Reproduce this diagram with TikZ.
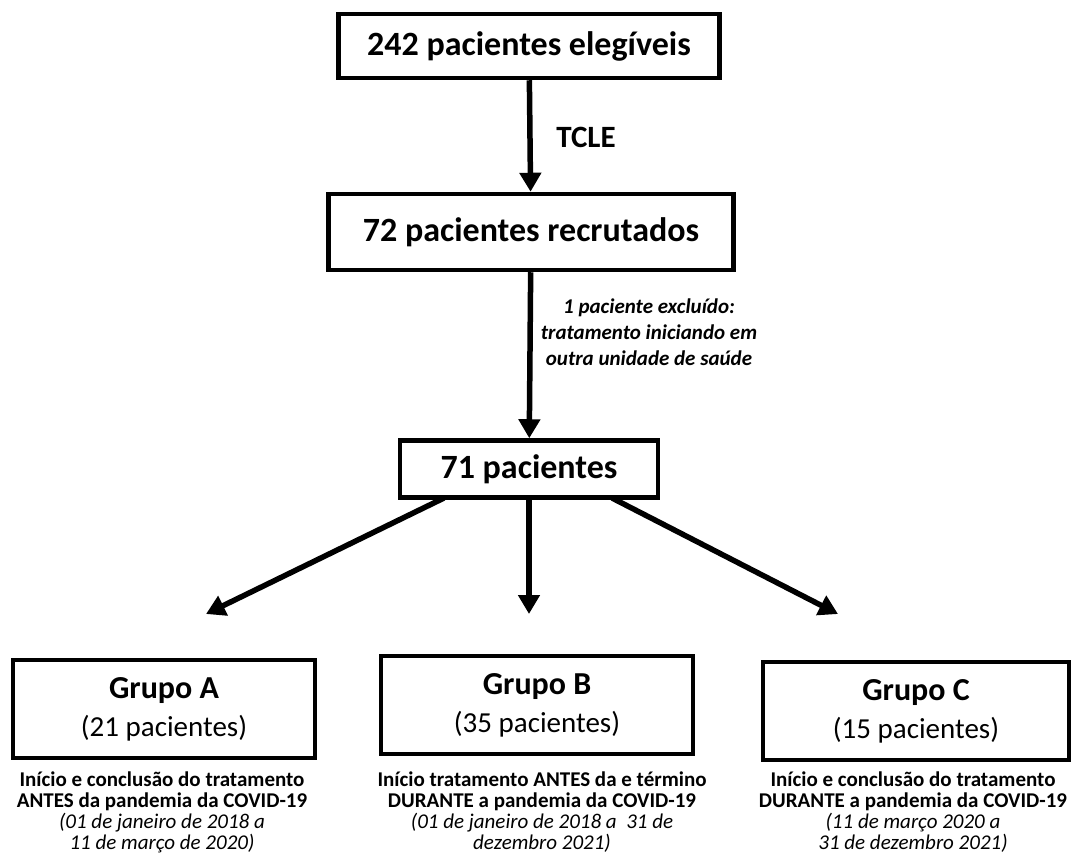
\documentclass[tikz,border=0pt]{standalone}
\usepackage{fontspec}
\setmainfont{Carlito}
\usetikzlibrary{arrows.meta}

\begin{document}
\begin{tikzpicture}[x=1pt, y=-1pt,
    caixa/.style={draw, line width=4.5pt, inner sep=0pt, font=\bfseries\fontsize{34}{40}\selectfont},
    grupo/.style={draw, line width=4.5pt, inner sep=0pt, align=center, font=\fontsize{29}{38}\selectfont},
    seta/.style={line width=5.5pt, -{Triangle[width=21pt, length=19pt]}},
    nota/.style={align=center, font=\fontsize{21}{21}\selectfont}]
    \useasboundingbox (0,0) rectangle (1081,866);
    \node [caixa, minimum width=381, minimum height=64] (elegiveis) at (529,46) {242 pacientes elegíveis};
    \node [caixa, minimum width=405, minimum height=76] (recrutados) at (531,232) {72 pacientes recrutados};
    \node [caixa, minimum width=258, minimum height=57] (pacientes) at (529,469) {71 pacientes};
    \node [grupo, minimum width=302, minimum height=98] (grupoA) at (164,709) {{\bfseries\fontsize{32}{38}\selectfont Grupo A}\\(21 pacientes)};
    \node [grupo, minimum width=312, minimum height=98] (grupoB) at (537,705) {{\bfseries\fontsize{32}{38}\selectfont Grupo B}\\(35 pacientes)};
    \node [grupo, minimum width=306, minimum height=98] (grupoC) at (916,711) {{\bfseries\fontsize{32}{38}\selectfont Grupo C}\\(15 pacientes)};
    \node [font=\bfseries\fontsize{31}{36}\selectfont] (tcle) at (586,137) {TCLE};
    \node [nota, font=\bfseries\itshape\fontsize{21}{26}\selectfont] (excluido) at (649,332) {1 paciente excluído:\\tratamento iniciando em\\outra unidade de saúde};
    \node [nota] (notaA) at (162,812) {\textbf{Início e conclusão do tratamento}\\\textbf{ANTES da pandemia da COVID-19}\\\textit{(01 de janeiro de 2018 a}\\\textit{11 de março de 2020)}};
    \node [nota] (notaB) at (542,812) {\textbf{Início tratamento ANTES da e término}\\\textbf{DURANTE a pandemia da COVID-19}\\\textit{(01 de janeiro de 2018 a \ 31 de}\\\textit{dezembro 2021)}};
    \node [nota] (notaC) at (913,812) {\textbf{Início e conclusão do tratamento}\\\textbf{DURANTE a pandemia da COVID-19}\\\textit{(11 de março 2020 a}\\\textit{31 de dezembro 2021)}};
    \coordinate (saidaA) at (444,498);
    \coordinate (saidaC) at (612,498);
    \coordinate (pontaA) at (206,614);
    \coordinate (pontaB) at (529,614);
    \coordinate (pontaC) at (838,614);
    \draw [seta] (elegiveis) -- (recrutados);
    \draw [seta] (recrutados) -- (pacientes);
    \draw [seta] (saidaA) -- (pontaA);
    \draw [seta] (pacientes) -- (pontaB);
    \draw [seta] (saidaC) -- (pontaC);
\end{tikzpicture}
\end{document}
